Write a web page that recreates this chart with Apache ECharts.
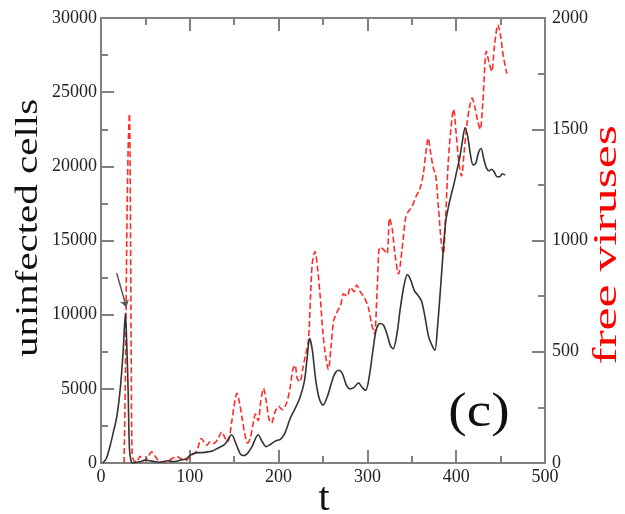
<!DOCTYPE html>
<html>
<head>
<meta charset="utf-8">
<script src="https://cdn.jsdelivr.net/npm/echarts@6/dist/echarts.min.js"></script>
<style>html,body{margin:0;padding:0;background:#fff}#c{width:625px;height:514px}</style>
</head>
<body>
<div id="c"></div>
<script>
// x-axis (t) ticks
const tTicks = [0, 100, 200, 300, 400, 500];
const cellTicks = [0, 5000, 10000, 15000, 20000, 25000, 30000];
const virusTicks = [0, 500, 1000, 1500, 2000];

// uninfected cells (black solid)
const cellT = [2,6,10,14,18,22,25,27.5,29,30.5,32,34,36,40,45,50,55,60,65,70,75,80,85,90,95,100,105,110,115,120,125,130,135,140,147,152,157,161,165,170,177,181,186,192,197,202,207,213,218,224,229,232,235,238,242,246,250,255,260,264,268,272,276,280,285,290,294,298,302,306,310,314,318,322,326,329,333,337,341,345,349,353,357,361,365,369,373,376,379,382,385,388,391,394,397,400,404,407,410,413,416,419,422,425,428,431,434,437,440,443,446,449,452,455];
const cellV = [0,300,1100,2100,3200,5200,7600,10100,8000,5000,1000,100,0,50,100,200,150,100,50,80,150,100,120,200,250,500,650,700,700,750,800,950,1100,1300,1900,1300,600,500,650,1100,1900,1500,1100,1300,1500,1600,2000,3000,3600,4400,5500,7000,8400,7600,5500,4300,3900,4500,5500,6100,6250,6000,5300,5000,5100,5400,5100,4900,5800,7500,9000,9400,9300,8700,7900,7700,8600,10400,11900,12700,12300,11600,11300,10900,9800,8500,7900,7600,9200,11500,14000,16200,17200,18000,18700,19500,20600,21700,22600,22000,20800,20100,20200,20900,21200,20500,19900,19700,19800,19600,19300,19300,19500,19400];

// free viruses (red dashed)
const virusT = [26,27.5,29,30.5,32,33,34,35,37,40,44,48,52,57,61,65,70,74,80,85,90,96,100,104,108,113,119,123,127,132,136,140,143,147,150,153,156,159,162,165,168,171,174,177,180,183,186,189,192,196,200,204,209,213,216,218.5,221,224,227,230,233.5,236,238,241,244,247,250,253,256,259,262,266,270,273,277,281,285,288,292,297,301,305,308,311,314,318,322,325,328,331,335,339,343,346,350,355,359,363,366,368.5,371,374,377,380,383,385.5,388,391,394,397,400,403,406,409,412,415,418,421,424,427,430,434,437,440,443,447,450,453,457];
const virusV = [0,400,1000,1400,1570,1200,500,50,10,5,30,10,20,50,30,10,5,6,20,30,20,12,28,40,55,110,80,95,88,110,140,110,96,180,260,313,270,200,130,90,110,170,220,190,280,335,280,200,180,230,255,240,270,340,420,440,380,365,420,480,550,750,900,950,870,740,580,480,420,520,640,680,710,760,750,790,770,800,770,740,700,620,580,780,970,960,940,1100,1050,940,850,960,1100,1130,1150,1200,1230,1300,1400,1460,1400,1330,1290,1150,1000,940,1100,1350,1500,1590,1480,1350,1290,1400,1520,1600,1640,1600,1540,1500,1620,1850,1800,1760,1870,1970,1920,1830,1750];

// annotation arrow pointing at the first peak
const arrowT = [17.7, 28.6];
const arrowV = [12800, 10500];

const zip = (a, b) => a.map((x, i) => [x, b[i]]);
const FONT = 'Liberation Serif';
const AX = '#808080';
const plain = v => String(v);

const chart = echarts.init(document.getElementById('c'), null, {renderer: 'canvas'});
const baseX = {
  type: 'value', min: tTicks[0], max: tTicks[tTicks.length - 1], interval: 100,
  axisLine: {show: true, onZero: false, lineStyle: {color: AX, width: 2}},
  axisTick: {show: true, inside: true, length: 13, lineStyle: {color: AX, width: 2}},
  minorTick: {show: true, splitNumber: 2, length: 7, lineStyle: {color: AX, width: 2}},
  splitLine: {show: false}
};
chart.setOption({
  animation: false,
  backgroundColor: '#fff',
  grid: {left: 101, right: 80, top: 18, bottom: 51, containLabel: false, outerBoundsMode: 'none'},
  xAxis: [
    Object.assign({}, baseX, {
      position: 'bottom',
      axisLabel: {fontFamily: FONT, fontSize: 18, color: '#222', margin: 5, formatter: plain}
    }),
    Object.assign({}, baseX, {position: 'top', axisLabel: {show: false}})
  ],
  yAxis: [
    {
      type: 'value', position: 'left', min: cellTicks[0], max: cellTicks[cellTicks.length - 1], interval: 5000,
      axisLine: {show: true, onZero: false, lineStyle: {color: AX, width: 2}},
      axisTick: {show: true, inside: true, length: 13, lineStyle: {color: AX, width: 2}},
      minorTick: {show: true, splitNumber: 2, length: 7, lineStyle: {color: AX, width: 2}},
      axisLabel: {fontFamily: FONT, fontSize: 18, color: '#222', margin: 4, formatter: plain},
      splitLine: {show: false}
    },
    {
      type: 'value', position: 'right', min: virusTicks[0], max: virusTicks[virusTicks.length - 1], interval: 500,
      axisLine: {show: true, onZero: false, lineStyle: {color: AX, width: 2}},
      axisTick: {show: true, inside: true, length: 13, lineStyle: {color: AX, width: 2}},
      minorTick: {show: true, splitNumber: 2, length: 7, lineStyle: {color: AX, width: 2}},
      axisLabel: {fontFamily: FONT, fontSize: 18, color: '#222', margin: 7, formatter: plain},
      splitLine: {show: false}
    }
  ],
  graphic: [
    {
      type: 'text', x: 29, y: 228, rotation: Math.PI / 2, scaleX: 1.28, silent: true,
      style: {text: 'uninfected cells', font: '32px "Liberation Serif"', fill: '#111', align: 'center', verticalAlign: 'middle'}
    },
    {
      type: 'text', x: 607, y: 245, rotation: Math.PI / 2, scaleX: 1.52, silent: true,
      style: {text: 'free viruses', font: '34px "Liberation Serif"', fill: '#ff0000', align: 'center', verticalAlign: 'middle'}
    },
    {
      type: 'text', x: 324, y: 499, silent: true,
      style: {text: 't', font: '40px "Liberation Serif"', fill: '#111', align: 'center', verticalAlign: 'middle'}
    },
    {
      type: 'text', x: 479, y: 413, scaleX: 1.15, silent: true,
      style: {text: '(c)', font: '48px "Liberation Serif"', fill: '#111', align: 'center', verticalAlign: 'middle'}
    }
  ],
  series: [
    {
      type: 'line', name: 'free viruses', xAxisIndex: 0, yAxisIndex: 1,
      data: zip(virusT, virusV), showSymbol: false, smooth: 0.3,
      lineStyle: {color: '#ff2a2a', width: 1.6, type: [6, 3]}, z: 2
    },
    {
      type: 'line', name: 'uninfected cells', xAxisIndex: 0, yAxisIndex: 0,
      data: zip(cellT, cellV), showSymbol: false, smooth: 0.3,
      lineStyle: {color: '#333', width: 1.6}, z: 3,
      markLine: {
        silent: true, symbol: ['none', 'arrow'], symbolSize: 7, label: {show: false},
        lineStyle: {color: '#555', width: 1.5, type: 'solid'},
        data: [[{coord: [arrowT[0], arrowV[0]]}, {coord: [arrowT[1], arrowV[1]]}]]
      }
    }
  ]
});
</script>
</body>
</html>
